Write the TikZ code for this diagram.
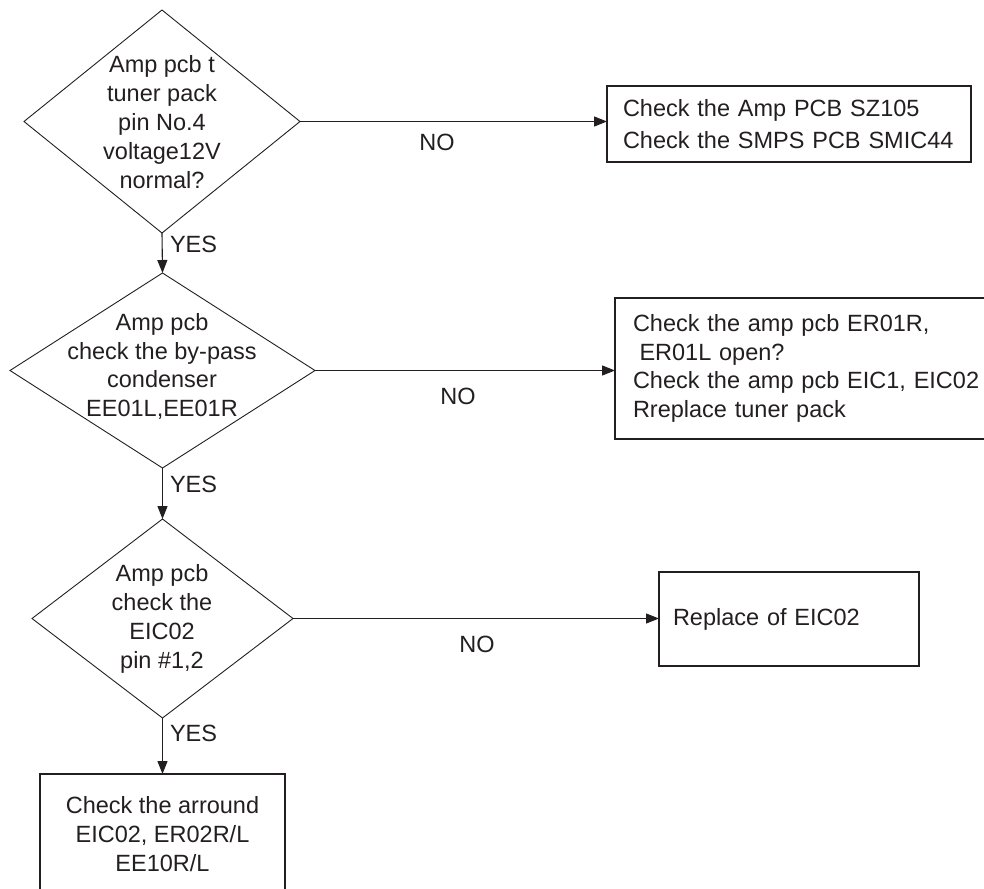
\documentclass[tikz,border=0pt]{standalone}
\usepackage{fontspec}
\setmainfont{Liberation Sans}
\usetikzlibrary{arrows.meta,shapes.geometric}
\definecolor{ink}{HTML}{231F20}
\begin{document}
\begin{tikzpicture}[x=1pt,y=-1pt,
  every node/.style={text=ink, font=\fontsize{23.5}{28.8}\selectfont, inner sep=0pt, outer sep=0pt},
  dec/.style={draw=ink, line width=0.9pt, shape=diamond, inner sep=0pt},
  dtxt/.style={align=center},
  boxr/.style={draw=ink, line width=1.2pt, rectangle, align=left},
  flow/.style={draw=ink, line width=1.1pt, -{Triangle[length=13pt,width=10pt]}},
  lab/.style={inner sep=0pt}]
\useasboundingbox (0,0) rectangle (984,888);

% decisions
\node[dec, minimum width=276pt, minimum height=223pt] (d1) at (162,121.5) {};
\node[dtxt] (d1t) at (162,122) {Amp pcb t\\tuner pack\\pin No.4\\voltage12V\\normal?};
\node[dec, minimum width=305pt, minimum height=195pt] (d2) at (162.5,370.5) {};
\node[dtxt] (d2t) at (162,366.5) {Amp pcb\\check the by-pass\\condenser\\EE01L,EE01R};
\node[dec, minimum width=261pt, minimum height=199pt] (d3) at (162.5,618.5) {};
\node[dtxt] (d3t) at (162,619) {Amp pcb\\check the\\EIC02\\pin \#1,2};

% boxes
\node[boxr, minimum width=364pt, minimum height=76pt, inner xsep=16pt, text width=332pt,
  font=\fontsize{23.5}{31.5}\selectfont] (b1) at (789,124)
  {Check the Amp PCB SZ105\\Check the SMPS PCB SMIC44};
\node[boxr, minimum width=386pt, minimum height=141pt, inner xsep=0pt, text width=350pt] (b2) at (808,368.5)
  {Check the amp pcb ER01R,\\\hspace*{6.5pt}ER01L open?\\Check the amp pcb EIC1, EIC02\\Rreplace tuner pack};
\node[boxr, minimum width=260pt, minimum height=94pt, inner xsep=14pt, text width=232pt] (b3) at (789,619)
  {Replace of EIC02};
\node[boxr, align=center, minimum width=245pt, minimum height=120pt] (b4) at (162.5,834)
  {Check the arround\\EIC02, ER02R/L\\EE10R/L};

% connectors
\draw[flow] (d1.south) -- (d2.north);
\draw[flow] (d2.south) -- (d3.north);
\draw[flow] (d3.south) -- (b4.north);
\draw[flow] (d1.east) -- (d1.east -| b1.west);
\draw[flow] (d2.east) -- (d2.east -| b2.west);
\draw[flow] (d3.east) -- (d3.east -| b3.west);

% labels
\node[lab, anchor=base west] (y1) at (170,252) {YES};
\node[lab, anchor=base west] (y2) at (170,492) {YES};
\node[lab, anchor=base west] (y3) at (170,741) {YES};
\node[lab, anchor=base] (n1) at (437,150) {NO};
\node[lab, anchor=base] (n2) at (458,404) {NO};
\node[lab, anchor=base] (n3) at (477,652) {NO};
\end{tikzpicture}
\end{document}
